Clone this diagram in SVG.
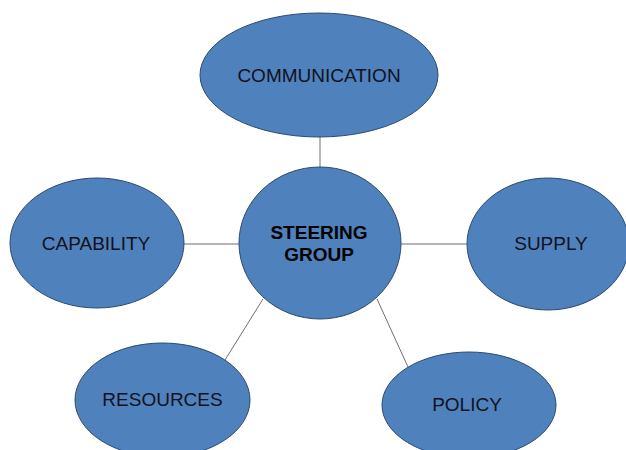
<svg xmlns="http://www.w3.org/2000/svg" width="626" height="450" viewBox="0 0 626 450">
<style>
.n{fill:#4f81bd;stroke:#2c4a6e;stroke-width:1}
.t{font-family:"Liberation Sans",Arial,sans-serif;font-size:19px;fill:#111122;text-anchor:middle}
.b{font-weight:bold;fill:#000}
.c{stroke:#6e6e6e;stroke-width:1;fill:none}
</style>
<rect width="626" height="450" fill="#fff"/>
<g id="connectors">
<line class="c" x1="320" y1="137" x2="320" y2="167"/>
<line class="c" x1="184" y1="244" x2="240" y2="244"/>
<line class="c" x1="400" y1="244" x2="467" y2="244"/>
<line class="c" x1="263" y1="299" x2="225" y2="360"/>
<line class="c" x1="377" y1="299" x2="408" y2="367"/>
</g>
<g id="communication">
<ellipse class="n" cx="319" cy="75" rx="119" ry="62"/>
<text class="t" x="319" y="82">COMMUNICATION</text>
</g>
<g id="steering">
<ellipse class="n" cx="320" cy="243" rx="81" ry="76"/>
<text class="t b" x="319" y="239">STEERING</text>
<text class="t b" x="319" y="261">GROUP</text>
</g>
<g id="capability">
<ellipse class="n" cx="97" cy="243" rx="87" ry="65"/>
<text class="t" x="96" y="250">CAPABILITY</text>
</g>
<g id="supply">
<ellipse class="n" cx="548" cy="244" rx="81" ry="66"/>
<text class="t" x="551" y="250">SUPPLY</text>
</g>
<g id="resources">
<ellipse class="n" cx="162.5" cy="400" rx="87.5" ry="57"/>
<text class="t" x="162.5" y="406">RESOURCES</text>
</g>
<g id="policy">
<ellipse class="n" cx="469" cy="405" rx="87" ry="53"/>
<text class="t" x="467" y="411">POLICY</text>
</g>
</svg>
